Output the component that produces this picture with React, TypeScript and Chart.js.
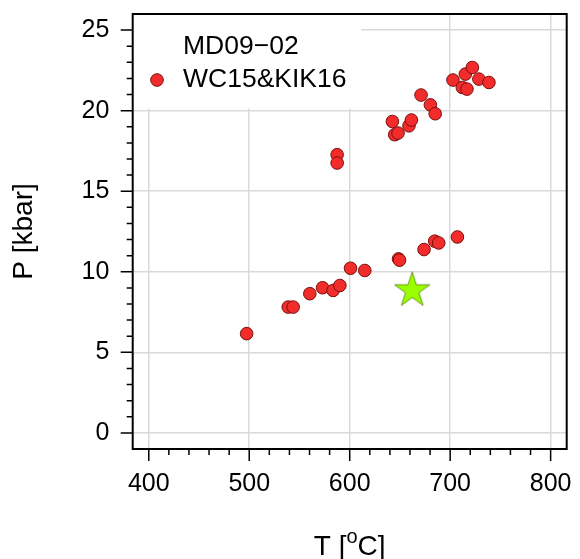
import React, { useEffect, useRef } from 'react';
import { Chart, registerables } from 'chart.js';
Chart.register(...registerables);

// WC15&KIK16 data (T in °C, P in kbar)
const wcT = [497.4, 538.8, 543.7, 560.3, 573.0, 583.5, 590.2, 600.8, 615.0, 648.6, 649.6, 674.0, 684.6, 688.6, 707.2,
  587.5, 587.5,
  642.5, 644.8, 648.1, 659.0, 661.4, 680.3, 685.1, 671.0,
  702.8, 715.1, 722.1, 728.6, 738.6, 712.1, 716.7];
const wcP = [6.16, 7.81, 7.81, 8.64, 9.01, 8.84, 9.15, 10.22, 10.08, 10.8, 10.72, 11.38, 11.9, 11.79, 12.16,
  17.27, 16.75,
  19.33, 18.51, 18.61, 19.06, 19.42, 20.36, 19.81, 20.97,
  21.9, 22.27, 22.68, 21.96, 21.75, 21.44, 21.34];
// MD09-02
const mdT = [662.2];
const mdP = [8.84];

const xMajor = [400, 500, 600, 700, 800];
const yMajor = [0, 5, 10, 15, 20, 25];
const legendLabels = ['MD09\u221202', 'WC15&KIK16'];
const yTitle = 'P [kbar]';
const xTitleParts = ['T [', 'o', 'C]'];

const FONT = '"Liberation Sans", Arial, Helvetica, sans-serif';

function zeroPad(s: any) {
  s.paddingTop = 0;
  s.paddingBottom = 0;
  s.paddingLeft = 0;
  s.paddingRight = 0;
}

export default function App() {
  const ref = useRef<HTMLCanvasElement>(null);
  useEffect(() => {
    document.body.style.margin = '0';
    // star point style
    const star = document.createElement('canvas');
    const R = 18.5, r = R * 0.382, C = 22;
    star.width = 44; star.height = 44;
    const sc = star.getContext('2d')!;
    sc.beginPath();
    for (let i = 0; i < 10; i++) {
      const ang = -Math.PI / 2 + (i * Math.PI) / 5;
      const rad = i % 2 === 0 ? R : r;
      const x = C + rad * Math.cos(ang);
      const y = C + rad * Math.sin(ang);
      if (i === 0) sc.moveTo(x, y); else sc.lineTo(x, y);
    }
    sc.closePath();
    sc.fillStyle = '#99ff00';
    sc.fill();
    sc.strokeStyle = '#4f7d00';
    sc.lineWidth = 0.8;
    sc.stroke();

    const framePlugin = {
      id: 'frame',
      beforeDatasetsDraw(chart: any) {
        const ctx = chart.ctx;
        const a = chart.chartArea;
        ctx.save();
        ctx.fillStyle = '#ffffff';
        ctx.fillRect(a.left, a.top, 361 - a.left, 108.5 - a.top);
        ctx.font = `26.5px ${FONT}`;
        ctx.fillStyle = '#000';
        ctx.textBaseline = 'middle';
        ctx.textAlign = 'left';
        ctx.fillText(legendLabels[0], 183, 47);
        ctx.fillText(legendLabels[1], 183, 80);
        ctx.beginPath();
        ctx.arc(157, 80, 6.3, 0, Math.PI * 2);
        ctx.fillStyle = '#f22b2b';
        ctx.fill();
        ctx.strokeStyle = '#7a0f0f';
        ctx.lineWidth = 1;
        ctx.stroke();
        ctx.restore();
      },
      afterDraw(chart: any) {
        const ctx = chart.ctx;
        const a = chart.chartArea;
        const xs = chart.scales.x, ys = chart.scales.y;
        ctx.save();
        ctx.strokeStyle = '#000';
        ctx.lineWidth = 2;
        ctx.strokeRect(a.left, a.top, a.right - a.left, a.bottom - a.top);
        ctx.lineWidth = 1.5;
        ctx.beginPath();
        for (let v = xMajor[0]; v <= xMajor[xMajor.length - 1]; v += 20) {
          const px = xs.getPixelForValue(v);
          const len = v % 100 === 0 ? 12 : 6;
          ctx.moveTo(px, a.bottom);
          ctx.lineTo(px, a.bottom + len);
        }
        for (let v = yMajor[0]; v <= yMajor[yMajor.length - 1]; v += 1) {
          const py = ys.getPixelForValue(v);
          const len = v % 5 === 0 ? 12 : 6;
          ctx.moveTo(a.left, py);
          ctx.lineTo(a.left - len, py);
        }
        ctx.stroke();
        // x title with superscript
        const big = `28px ${FONT}`, small = `20px ${FONT}`;
        ctx.font = big;
        const w1 = ctx.measureText(xTitleParts[0]).width;
        const w3 = ctx.measureText(xTitleParts[2]).width;
        ctx.font = small;
        const w2 = ctx.measureText(xTitleParts[1]).width;
        const total = w1 + w2 + w3;
        const cx = (a.left + a.right) / 2;
        let x0 = cx - total / 2;
        const base = 555;
        ctx.fillStyle = '#000';
        ctx.textBaseline = 'alphabetic';
        ctx.textAlign = 'left';
        ctx.font = big;
        ctx.fillText(xTitleParts[0], x0, base);
        x0 += w1;
        ctx.font = small;
        ctx.fillText(xTitleParts[1], x0, base - 12);
        x0 += w2;
        ctx.font = big;
        ctx.fillText(xTitleParts[2], x0, base);
        ctx.restore();
      },
    };

    const chart = new Chart(ref.current!, {
      type: 'scatter',
      data: {
        datasets: [
          {
            label: legendLabels[0],
            data: mdT.map((t, i) => ({ x: t, y: mdP[i] })),
            pointStyle: star as any,
            pointRadius: 18,
            backgroundColor: '#99ff00',
          },
          {
            label: legendLabels[1],
            data: wcT.map((t, i) => ({ x: t, y: wcP[i] })),
            pointRadius: 6.3,
            backgroundColor: '#f22b2b',
            borderColor: '#7a0f0f',
            borderWidth: 1,
          },
        ],
      },
      options: {
        responsive: false,
        animation: false,
        events: [],
        layout: { autoPadding: false, padding: { left: 0, top: 14, right: 13.3, bottom: 0 } },
        plugins: { legend: { display: false }, tooltip: { enabled: false } },
        scales: {
          x: {
            type: 'linear',
            min: 384,
            max: 816,
            afterFit: (s: any) => { s.height = 110; zeroPad(s); },
            grid: { color: '#dadada', lineWidth: 1.5, drawTicks: false },
            border: { display: false },
            ticks: {
              includeBounds: false,
              stepSize: 100,
              padding: 20,
              color: '#000',
              font: { family: FONT, size: 25 },
              maxRotation: 0,
              autoSkip: false,
            },
            title: { display: false },
          },
          y: {
            type: 'linear',
            min: -1,
            max: 26,
            afterFit: (s: any) => { s.width = 132.7; zeroPad(s); },
            grid: { color: '#dadada', lineWidth: 1.5, drawTicks: false },
            border: { display: false },
            ticks: {
              includeBounds: false,
              stepSize: 5,
              padding: 23.4,
              color: '#000',
              font: { family: FONT, size: 25 },
              autoSkip: false,
            },
            title: {
              display: true,
              text: yTitle,
              color: '#000',
              font: { family: FONT, size: 28, lineHeight: 1 },
              padding: { top: 10, bottom: 0 },
            },
          },
        },
      },
      plugins: [framePlugin],
    });
    return () => chart.destroy();
  }, []);
  return (
    <div style={{ width: 580, height: 559 }}>
      <canvas ref={ref} width={580} height={559} style={{ display: 'block' }} />
    </div>
  );
}
